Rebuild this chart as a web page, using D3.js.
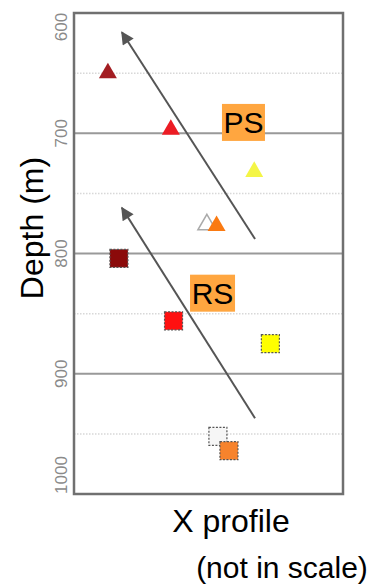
<!DOCTYPE html>
<html>
<head>
<meta charset="utf-8">
<script src="https://cdn.jsdelivr.net/npm/d3@7"></script>
<style>
  body { margin: 0; background: #fff; }
  text { font-family: "Liberation Sans", Arial, sans-serif; }
</style>
</head>
<body>
<div id="chart"></div>
<script>
// PS points (triangles): x position (not in scale), depth in m
var psX = [12.6, 36, 67, 49.4, 53];
var psDepth = [650, 697, 732, 776, 777];
var psColor = ["#a31d22", "#ec1c24", "#f4f546", "#ffffff", "#fa7a12"];

// RS points (squares)
var rsX = [16.7, 37, 73, 53.5, 57.6];
var rsDepth = [804, 856, 875, 952, 964];
var rsColor = ["#8b0a0a", "#ff1010", "#ffff00", "#f6f6f6", "#f7832c"];

var depthTicks = [600, 700, 800, 900, 1000];
var minorTicks = [650, 750, 850, 950];

// trend arrows [x, depth]
var arrows = [
  { name: "PS", from: [67.3, 788], to: [17.8, 616] },
  { name: "RS", from: [67.3, 937], to: [17.8, 762] }
];
var tags = [
  { name: "PS", x: 63, depth: 691 },
  { name: "RS", x: 51.5, depth: 833 }
];

var width = 374, height = 586;
var mLeft = 74, mRight = 343, mTop = 13, mBottom = 494;

var svg = d3.select("#chart").append("svg")
  .attr("width", width)
  .attr("height", height);

var x = d3.scaleLinear().domain([0, 100]).range([mLeft, mRight]);
var y = d3.scaleLinear().domain([600, 1000]).range([mTop, mBottom]);

svg.append("defs").append("marker")
  .attr("id", "head")
  .attr("viewBox", "0 0 10 10")
  .attr("refX", 9).attr("refY", 5)
  .attr("markerWidth", 15).attr("markerHeight", 13)
  .attr("markerUnits", "userSpaceOnUse")
  .attr("orient", "auto")
  .append("path")
  .attr("d", "M0,0 L10,5 L0,10 z")
  .attr("fill", "#555");

// minor dotted grid
svg.selectAll(".minor")
  .data(minorTicks)
  .enter()
  .append("line")
  .attr("x1", mLeft).attr("x2", mRight)
  .attr("y1", d => y(d)).attr("y2", d => y(d))
  .attr("stroke", "#d8d8d8")
  .attr("stroke-width", 1.5)
  .attr("stroke-dasharray", "1.5,1.5");

// major grid
svg.selectAll(".major")
  .data(depthTicks.slice(1, 4))
  .enter()
  .append("line")
  .attr("x1", mLeft).attr("x2", mRight)
  .attr("y1", d => y(d)).attr("y2", d => y(d))
  .attr("stroke", "#999")
  .attr("stroke-width", 2);

// frame
svg.append("rect")
  .attr("x", mLeft).attr("y", mTop)
  .attr("width", mRight - mLeft).attr("height", mBottom - mTop)
  .attr("fill", "none")
  .attr("stroke", "#707070")
  .attr("stroke-width", 2.5);

// tick labels rotated
svg.selectAll(".tick")
  .data(depthTicks)
  .enter()
  .append("text")
  .attr("transform", function(d) {
    var yy = y(d);
    if (d === 600) yy = 27;
    if (d === 1000) yy = 475;
    return "translate(67," + yy + ") rotate(-90)";
  })
  .attr("text-anchor", "middle")
  .attr("fill", "#8a8a8a")
  .attr("font-size", 17)
  .text(d => d);

// arrows
svg.selectAll(".arrow")
  .data(arrows)
  .enter()
  .append("line")
  .attr("x1", d => x(d.from[0])).attr("y1", d => y(d.from[1]))
  .attr("x2", d => x(d.to[0])).attr("y2", d => y(d.to[1]))
  .attr("stroke", "#555")
  .attr("stroke-width", 2)
  .attr("marker-end", "url(#head)");

// tags
var tag = svg.selectAll(".tag")
  .data(tags)
  .enter()
  .append("g")
  .attr("transform", d => "translate(" + x(d.x) + "," + y(d.depth) + ")");
tag.append("rect")
  .attr("x", d => d.name === "PS" ? -21.5 : -22.5)
  .attr("y", -18.5)
  .attr("width", d => d.name === "PS" ? 43 : 45)
  .attr("height", 37)
  .attr("fill", "#ffa640");
tag.append("text")
  .attr("text-anchor", "middle")
  .attr("y", 11)
  .attr("font-size", 30)
  .attr("fill", "#000")
  .text(d => d.name);

// triangles
var tri = d3.symbol().type(d3.symbolTriangle).size(140);
svg.selectAll(".ps")
  .data(psX)
  .enter()
  .append("path")
  .attr("d", tri)
  .attr("transform", (d, i) => "translate(" + x(d) + "," + y(psDepth[i]) + ")")
  .attr("fill", (d, i) => psColor[i])
  .attr("stroke", (d, i) => psColor[i] === "#ffffff" ? "#aaa" : "none")
  .attr("stroke-width", 1.5);

// squares
var s = 18;
svg.selectAll(".rs")
  .data(rsX)
  .enter()
  .append("rect")
  .attr("x", d => x(d) - s / 2)
  .attr("y", (d, i) => y(rsDepth[i]) - s / 2)
  .attr("width", s).attr("height", s)
  .attr("fill", (d, i) => rsColor[i])
  .attr("stroke", "#555")
  .attr("stroke-width", 1.2)
  .attr("stroke-dasharray", "2,1.5");

// axis titles
svg.append("text")
  .attr("transform", "translate(43,228) rotate(-90)")
  .attr("text-anchor", "middle")
  .attr("font-size", 32)
  .text("Depth (m)");
svg.append("text")
  .attr("x", 231).attr("y", 532)
  .attr("text-anchor", "middle")
  .attr("font-size", 32)
  .text("X profile");
svg.append("text")
  .attr("x", 282).attr("y", 578)
  .attr("text-anchor", "middle")
  .attr("font-size", 30)
  .text("(not in scale)");
</script>
</body>
</html>
